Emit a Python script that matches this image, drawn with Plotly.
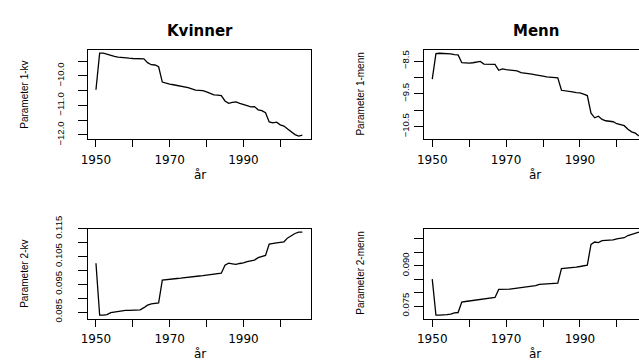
import plotly.graph_objects as go

W, H = 639, 362

years = list(range(1950, 2007))

kv_p1 = [-10.47, -9.23, -9.23, -9.27, -9.31, -9.34, -9.36, -9.38, -9.39, -9.40,
         -9.41, -9.41, -9.41, -9.42, -9.55, -9.62, -9.63, -9.69, -10.21, -10.25,
         -10.28, -10.30, -10.32, -10.34, -10.37, -10.40, -10.44, -10.48, -10.49, -10.50,
         -10.54, -10.59, -10.64, -10.65, -10.67, -10.85, -10.93, -10.90, -10.88, -10.93,
         -10.96, -11.01, -11.05, -11.04, -11.15, -11.18, -11.25, -11.56, -11.59, -11.57,
         -11.66, -11.70, -11.80, -11.90, -11.99, -12.04, -12.01]

menn_p1 = [-9.05, -8.27, -8.26, -8.26, -8.26, -8.28, -8.30, -8.31, -8.55, -8.56,
           -8.56, -8.55, -8.54, -8.51, -8.59, -8.60, -8.60, -8.60, -8.78, -8.74,
           -8.76, -8.77, -8.78, -8.80, -8.85, -8.86, -8.88, -8.90, -8.92, -8.95,
           -8.96, -8.98, -8.99, -9.00, -9.01, -9.39, -9.40, -9.42, -9.44, -9.46,
           -9.47, -9.51, -9.55, -10.09, -10.23, -10.18, -10.28, -10.32, -10.34, -10.35,
           -10.41, -10.44, -10.47, -10.58, -10.66, -10.70, -10.785]

kv_p2 = [0.1026, 0.0839, 0.0839, 0.0841, 0.0848, 0.0850, 0.0851, 0.0855, 0.0856, 0.0856,
         0.0857, 0.0857, 0.0858, 0.0866, 0.0875, 0.0880, 0.0882, 0.0883, 0.0965, 0.0967,
         0.0968, 0.0969, 0.0971, 0.0972, 0.0974, 0.0975, 0.0977, 0.0978, 0.0980, 0.0981,
         0.0983, 0.0985, 0.0987, 0.0988, 0.0990, 0.1019, 0.1026, 0.1024, 0.1022, 0.1025,
         0.1027, 0.1032, 0.1034, 0.1037, 0.1046, 0.1050, 0.1054, 0.1095, 0.1098, 0.1099,
         0.1101, 0.1103, 0.1117, 0.1126, 0.1133, 0.1138, 0.1138]

menn_p2 = [0.0850, 0.0716, 0.0716, 0.0716, 0.0718, 0.0720, 0.0725, 0.0726, 0.0765, 0.0767,
           0.0769, 0.0771, 0.0773, 0.0775, 0.0778, 0.0780, 0.0781, 0.0782, 0.0812, 0.0812,
           0.0812, 0.0813, 0.0815, 0.0817, 0.0819, 0.0821, 0.0822, 0.0823, 0.0826, 0.0831,
           0.0832, 0.0833, 0.0834, 0.0834, 0.0835, 0.0889, 0.0890, 0.0891, 0.0893, 0.0895,
           0.0897, 0.0899, 0.0902, 0.0979, 0.0988, 0.0986, 0.0993, 0.0994, 0.0995, 0.0996,
           0.1000, 0.1002, 0.1004, 0.1012, 0.1017, 0.1020, 0.1025]

x_ticks = [1950, 1960, 1970, 1980, 1990, 2000]
x_ticktext = ["1950", "", "1970", "", "1990", ""]

kv_p1_ticks = [-9.5, -10.0, -10.5, -11.0, -11.5, -12.0]
kv_p1_text = ["", "−10.0", "", "−11.0", "", "−12.0"]
menn_p1_ticks = [-8.5, -9.0, -9.5, -10.0, -10.5]
menn_p1_text = ["−8.5", "", "−9.5", "", "−10.5"]
kv_p2_ticks = [0.085, 0.090, 0.095, 0.100, 0.105, 0.110, 0.115]
kv_p2_text = ["0.085", "", "0.095", "", "0.105", "", "0.115"]
menn_p2_ticks = [0.075, 0.080, 0.085, 0.090, 0.095, 0.100]
menn_p2_text = ["0.075", "", "", "0.090", "", ""]

panel_titles = ["Kvinner", "Menn"]
y_titles = ["Parameter 1-kv", "Parameter 1-menn", "Parameter 2-kv", "Parameter 2-menn"]
x_title = "år"

def px(x):
    return x / W

def py(y):
    return 1 - y / H

fig = go.Figure()
series = [kv_p1, menn_p1, kv_p2, menn_p2]
for i, s in enumerate(series):
    ax = "" if i == 0 else str(i + 1)
    fig.add_trace(go.Scatter(x=years, y=s, mode="lines",
                             line=dict(color="black", width=1.3),
                             xaxis="x" + ax, yaxis="y" + ax, showlegend=False,
                             hoverinfo="skip"))

left_dom = [px(81.6), px(307.0)]
right_dom = [px(421.6), 1.0]
top_dom = [py(133.3), py(39.0)]
bot_dom = [py(322.7), py(227.7)]

tick_font = dict(family="DejaVu Sans", size=12, color="black")
ytick_font = dict(family="Liberation Sans, Arial", size=9.5, color="black")

def xax(dom, anchor, rng):
    return dict(domain=dom, anchor=anchor, range=rng, showgrid=False, zeroline=False,
                showline=True, linecolor="black", linewidth=1, mirror=True,
                ticks="outside", ticklen=7, tickwidth=1, tickcolor="black",
                tickvals=x_ticks, ticktext=x_ticktext, tickfont=tick_font,
                ticklabelstandoff=2)

def yax(dom, anchor, rng, tv, tt, mirror, standoff):
    return dict(domain=dom, anchor=anchor, range=rng, showgrid=False, zeroline=False,
                showline=True, linecolor="black", linewidth=1, mirror=mirror,
                ticks="outside", ticklen=9, tickwidth=1, tickcolor="black",
                tickvals=tv, ticktext=tt, tickfont=ytick_font, tickangle=-90,
                ticklabelstandoff=standoff)

xl = [1947.76, 2008.24]
xr = [1947.76, 2006.0]

fig.update_layout(
    width=W, height=H, margin=dict(l=0, r=0, t=0, b=0),
    paper_bgcolor="white", plot_bgcolor="white",
    xaxis=xax(left_dom, "y", xl),
    yaxis=yax(top_dom, "x", [-12.15, -9.12], kv_p1_ticks, kv_p1_text, True, 10),
    xaxis2=xax(right_dom, "y2", xr),
    yaxis2=yax(top_dom, "x2", [-10.886, -8.16], menn_p1_ticks, menn_p1_text, False, 1),
    xaxis3=xax(left_dom, "y3", xl),
    yaxis3=yax(bot_dom, "x3", [0.08261, 0.115], kv_p2_ticks, kv_p2_text, True, 12),
    xaxis4=xax(right_dom, "y4", xr),
    yaxis4=yax(bot_dom, "x4", [0.07028, 0.10373], menn_p2_ticks, menn_p2_text, False, 1),
)

ann = []
title_font = dict(family="DejaVu Sans", size=15, color="black")
ann.append(dict(text="<b>%s</b>" % panel_titles[0], x=px(195), y=py(18.5), xref="paper", yref="paper",
                showarrow=False, font=title_font, xanchor="center", yanchor="middle"))
ann.append(dict(text="<b>%s</b>" % panel_titles[1], x=px(535), y=py(18.5), xref="paper", yref="paper",
                showarrow=False, font=title_font, xanchor="center", yanchor="middle"))

ytitle_font = dict(family="Liberation Sans, Arial", size=10, color="black")
ypos = [(17.5, 86), (357, 86), (17.5, 275), (357, 275)]
for t, (xx, yy) in zip(y_titles, ypos):
    ann.append(dict(text=t, x=px(xx), y=py(yy), xref="paper", yref="paper", textangle=-90,
                    showarrow=False, font=ytitle_font, xanchor="center", yanchor="middle"))

xtitle_font = dict(family="DejaVu Sans", size=12, color="black")
for (xx, yy) in [(195, 170.5), (534, 170.5), (195, 359.5), (534, 359.5)]:
    ann.append(dict(text=x_title, x=px(xx), y=py(yy), xref="paper", yref="paper",
                    showarrow=False, font=xtitle_font, xanchor="center", yanchor="middle"))

fig.update_layout(annotations=ann)

fig.write_html("out.html")
